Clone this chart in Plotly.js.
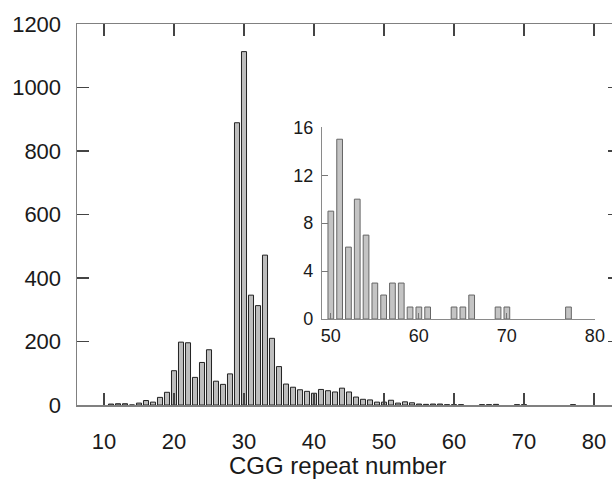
<!DOCTYPE html>
<html>
<head>
<meta charset="utf-8">
<script src="https://cdn.plot.ly/plotly-3.0.1.min.js"></script>
<style>html,body{margin:0;padding:0;background:#fff;}#chart{width:612px;height:483px;}</style>
</head>
<body>
<div id="chart"></div>
<script>
// CGG repeat number 11..49 (main histogram body)
const bodyRepeats = [11,12,13,14,15,16,17,18,19,20,21,22,23,24,25,26,27,28,29,30,31,32,33,34,35,36,37,38,39,40,41,42,43,44,45,46,47,48,49];
const bodyCounts  = [3,4,4,0,6,14,9,24,40,108,198,196,87,134,174,75,65,98,889,1113,346,313,472,210,121,66,56,48,43,37,49,45,41,53,41,25,18,16,9];
// Tail (>=50), also shown enlarged in the inset
const tailRepeats = [50,51,52,53,54,55,56,57,58,59,60,61,64,65,66,69,70,77];
const tailCounts  = [9,15,6,10,7,3,2,3,3,1,1,1,1,1,2,1,1,1];

const mainY = [0,200,400,600,800,1000,1200];
const mainX = [10,20,30,40,50,60,70,80];
const insetY = [0,4,8,12,16];
const insetX = [50,60,70,80];
const xTitle = 'CGG repeat number';

const FONT = 'Liberation Sans, Arial, sans-serif';

const traces = [
  {
    type:'bar', x: bodyRepeats.concat(tailRepeats), y: bodyCounts.concat(tailCounts),
    width:0.72, xaxis:'x', yaxis:'y',
    marker:{color:'#bdbdbd', line:{color:'#222', width:1}},
    hoverinfo:'x+y'
  },
  {
    type:'bar', x: tailRepeats, y: tailCounts,
    width:0.65, xaxis:'x2', yaxis:'y2',
    marker:{color:'#c4c4c4', line:{color:'#666', width:1}},
    hoverinfo:'x+y'
  },
  { type:'scatter', x:[], y:[], xaxis:'x', yaxis:'y3', showlegend:false, hoverinfo:'skip' }
];

const layout = {
  width:612, height:483,
  margin:{l:77, r:0, t:24, b:78, pad:0},
  paper_bgcolor:'#fff', plot_bgcolor:'rgba(0,0,0,0)',
  showlegend:false, bargap:0,
  font:{family:FONT, color:'#1a1a1a', size:22},
  xaxis:{
    domain:[0,1], range:[6.143, 82.571], tickvals:mainX, ticktext:mainX.map(String),
    ticks:'inside', ticklen:12, tickwidth:1.5, tickcolor:'#444',
    showline:true, linecolor:'#808080', linewidth:1.5, mirror:'ticks',
    showgrid:false, zeroline:false,
    tickfont:{size:22, family:FONT}, ticklabelstandoff:16
  },
  yaxis:{
    domain:[0,1], range:[0,1200], tickvals:mainY, ticktext:mainY.map(String),
    ticks:'inside', ticklen:12, tickwidth:1.5, tickcolor:'#444',
    showline:true, linecolor:'#808080', linewidth:1.5,
    showgrid:false, zeroline:false,
    tickfont:{size:22, family:FONT}, ticklabelstandoff:10
  },
  yaxis3:{
    overlaying:'y', side:'right', anchor:'x', range:[0,1200], tickvals:mainY.slice(1,6),
    ticks:'inside', ticklen:4, tickwidth:1.5, tickcolor:'#444',
    showticklabels:false, showline:false, showgrid:false, zeroline:false
  },
  xaxis2:{
    domain:[0.458, 0.968], anchor:'y2', range:[49.0, 80], tickvals:insetX, ticktext:insetX.map(String),
    ticks:'inside', ticklen:6, tickwidth:1, tickcolor:'#777',
    showline:true, linecolor:'#8a8a8a', linewidth:1.2,
    showgrid:false, zeroline:false, tickfont:{size:18, family:FONT}
  },
  yaxis2:{
    domain:[0.2257, 0.729], anchor:'x2', range:[0,16], tickvals:insetY, ticktext:insetY.map(String),
    ticks:'inside', ticklen:6, tickwidth:1, tickcolor:'#777',
    showline:true, linecolor:'#8a8a8a', linewidth:1.2,
    showgrid:false, zeroline:false, tickfont:{size:18, family:FONT}, ticklabelstandoff:4
  },
  annotations:[{
    text:xTitle, xref:'paper', yref:'paper', x:0.486, y:-0.160,
    xanchor:'center', yanchor:'middle', showarrow:false,
    font:{size:24, family:FONT, color:'#1a1a1a'}
  }]
};

Plotly.newPlot('chart', traces, layout, {displayModeBar:false, staticPlot:true});
</script>
</body>
</html>
